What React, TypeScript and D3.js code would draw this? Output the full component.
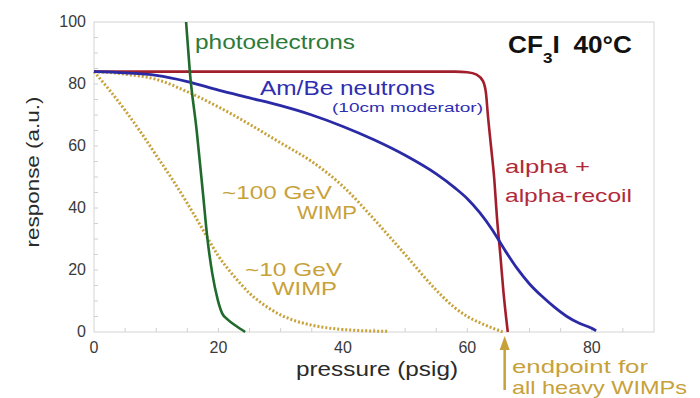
import React from "react";
import * as d3 from "d3";

// Axis ticks
const pressureTicks = [0, 20, 40, 60, 80];
const responseTicks = [0, 20, 40, 60, 80, 100];
const minorStep = 5;

// photoelectrons
const photoP = [14.8, 15.4, 16.5, 17.5, 18.2, 19.0, 19.9, 20.6, 21.5, 22.8, 24.3];
const photoR = [100, 84, 65, 45, 30.6, 19, 10.3, 6, 4, 2, 0];

// Am/Be neutrons (10cm moderator)
const neutronP = [0, 5, 10, 15, 20, 25, 30, 35, 40, 45, 50, 55, 58, 60, 62, 64, 66, 68, 70, 72, 74, 76, 78, 80, 80.7];
const neutronR = [84, 83.6, 82.8, 80.8, 78, 75.5, 73, 70, 66.3, 62, 57, 51, 46.5, 43, 38.5, 33, 26.5, 20.5, 15.5, 11.5, 8, 5, 2.8, 1.2, 0.4];

// alpha + alpha-recoil
const alphaP = [0, 58, 60, 61.5, 62.5, 63, 63.3, 63.8, 64.3, 64.8, 65.3, 65.8, 66.5];
const alphaR = [84, 84, 83.8, 83, 81, 77, 70, 60, 50, 36, 25, 13, 0];

// ~100 GeV WIMP
const wimp100P = [0, 5, 10, 15, 20, 25, 30, 35, 40, 45, 50, 55, 58, 60, 62, 64, 65.7];
const wimp100R = [84, 83.2, 81.5, 77.5, 72.6, 67, 61, 55, 47, 36.4, 25, 13.5, 7.8, 5, 3, 1.3, 0];

// ~10 GeV WIMP
const wimp10P = [0, 2.5, 5, 7.5, 10, 12.5, 15, 17.5, 20, 22.5, 25, 27.5, 30, 32.5, 35, 40, 47.3];
const wimp10R = [84, 78, 71.5, 64.5, 57, 49.5, 41.5, 33, 24.5, 18, 12.5, 8.5, 5.5, 3.5, 2.2, 0.8, 0.2];

const W = 700;
const H = 398;
const FONT = "'Liberation Sans', Arial, Helvetica, sans-serif";

const GREEN = "#1f6a2c";
const BLUE = "#2a2aa6";
const RED = "#a11f2d";
const GOLD = "#c7a13a";

function zip(xs: number[], ys: number[]): [number, number][] {
  return xs.map((x, i) => [x, ys[i]]);
}

export default function App() {
  const x = d3.scaleLinear().domain([0, 90]).range([94, 654]);
  const y = d3.scaleLinear().domain([0, 100]).range([332, 22]);

  const line = d3
    .line<[number, number]>()
    .x((d) => x(d[0]))
    .y((d) => y(d[1]))
    .curve(d3.curveMonotoneX);

  const minorY = d3.range(minorStep, 100, minorStep);
  const minorX = d3.range(minorStep, 90, minorStep);

  const label = (
    text: string,
    px: number,
    py: number,
    size: number,
    color: string,
    len?: number,
    anchor: "start" | "middle" | "end" = "start",
    weight: string | number = "normal"
  ) => (
    <text
      x={px}
      y={py}
      fontSize={size}
      fill={color}
      textAnchor={anchor}
      fontWeight={weight}
      {...(len ? { textLength: len, lengthAdjust: "spacingAndGlyphs" } : {})}
    >
      {text}
    </text>
  );

  const arrowX = x(66);

  return (
    <svg
      width={W}
      height={H}
      style={{ position: "absolute", left: 0, top: 0, background: "#fff" }}
      fontFamily={FONT}
    >
      {/* plot frame */}
      <rect x={x(0)} y={y(100)} width={x(90) - x(0)} height={y(0) - y(100)} fill="none" stroke="#d4d4d4" strokeWidth={1} />

      {/* minor ticks */}
      {minorY.map((v) => (
        <line key={"my" + v} x1={x(0)} x2={x(0) + 4} y1={y(v)} y2={y(v)} stroke="#d0d0d0" />
      ))}
      {minorX.map((v) => (
        <line key={"mx" + v} x1={x(v)} x2={x(v)} y1={y(0)} y2={y(0) - 4} stroke="#d0d0d0" />
      ))}

      {/* tick labels */}
      {responseTicks.map((v) => (
        <text key={"ty" + v} x={86} y={y(v) + 5} fontSize={16} fill="#3a3a3a" textAnchor="end">
          {v}
        </text>
      ))}
      {pressureTicks.map((v) => (
        <text key={"tx" + v} x={x(v)} y={353} fontSize={16} fill="#3a3a3a" textAnchor="middle">
          {v}
        </text>
      ))}

      {/* axis titles */}
      {label("pressure (psig)", 377, 376, 21, "#2a2a2a", 162, "middle")}
      <text
        transform="translate(39,172) rotate(-90)"
        fontSize={19}
        fill="#2a2a2a"
        textAnchor="middle"
        textLength={151}
        lengthAdjust="spacingAndGlyphs"
      >
        response (a.u.)
      </text>

      {/* curves */}
      <path d={line(zip(wimp10P, wimp10R)) || ""} fill="none" stroke={GOLD} strokeWidth={3} strokeDasharray="2,2" />
      <path d={line(zip(wimp100P, wimp100R)) || ""} fill="none" stroke={GOLD} strokeWidth={3} strokeDasharray="2,2" />
      <path d={line(zip(alphaP, alphaR)) || ""} fill="none" stroke={RED} strokeWidth={2.6} />
      <path d={line(zip(neutronP, neutronR)) || ""} fill="none" stroke={BLUE} strokeWidth={2.8} />
      <path d={line(zip(photoP, photoR)) || ""} fill="none" stroke={GREEN} strokeWidth={2.6} />

      {/* annotations */}
      {label("photoelectrons", 195, 49, 20, "#2c7a3a", 160)}
      {label("Am/Be neutrons", 260, 95, 20, "#2e2eb0", 175)}
      {label("(10cm moderator)", 332, 112, 13, "#2e2eb0", 151)}
      {label("alpha +", 505, 173, 19, "#b02a3c", 85)}
      {label("alpha-recoil", 505, 202, 19, "#b02a3c", 127)}
      {label("~100 GeV", 222, 199, 19, GOLD, 110)}
      {label("WIMP", 297, 219, 19, GOLD, 60)}
      {label("~10 GeV", 245, 276, 19, GOLD, 97)}
      {label("WIMP", 272, 295, 19, GOLD, 65)}

      {/* CF3I 40°C */}
      <g transform="translate(508,53) scale(1.14,1)">
        <text x={0} y={0} fontSize={23} fontWeight="bold" fill="#111">
          CF
          <tspan dy={10} fontSize={15}>3</tspan>
          <tspan dy={-10}>I</tspan>
          <tspan dx={12}>40°C</tspan>
        </text>
      </g>

      {/* endpoint arrow */}
      <line x1={arrowX} x2={arrowX} y1={390} y2={346} stroke={GOLD} strokeWidth={2.5} />
      <path d={`M${arrowX},${336} L${arrowX - 5},${350} L${arrowX + 5},${350} Z`} fill={GOLD} />
      {label("endpoint  for", 512, 373, 19, GOLD, 136)}
      {label("all heavy WIMPs", 512, 394, 19, GOLD, 175)}
    </svg>
  );
}
